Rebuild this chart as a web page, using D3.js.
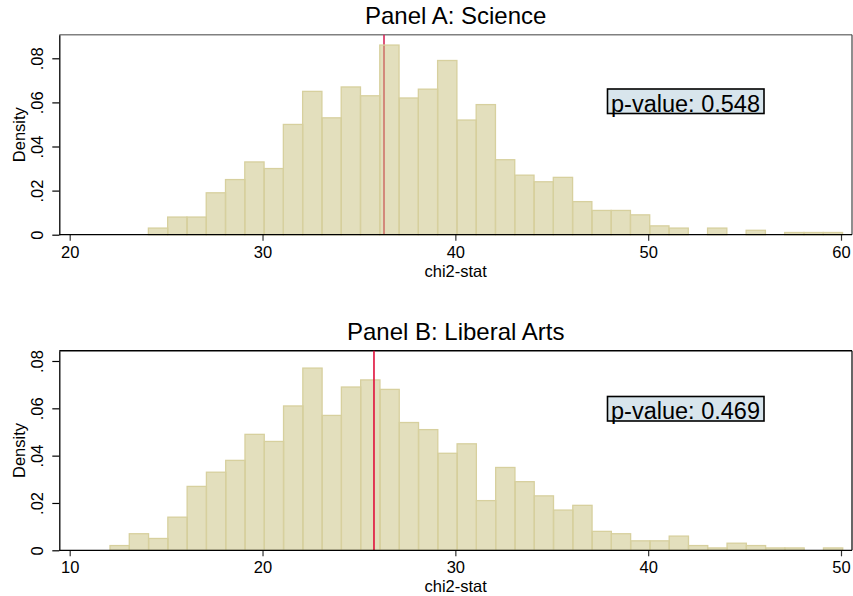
<!DOCTYPE html>
<html>
<head>
<meta charset="utf-8">
<script src="https://cdn.jsdelivr.net/npm/d3@7"></script>
<style>
  body { margin: 0; background: #fff; }
  svg { display: block; }
  text { font-family: "Liberation Sans", Arial, sans-serif; fill: #000; }
</style>
</head>
<body>
<div id="my_dataviz"></div>
<script>
// histogram values (density per bin, bins of width 1)
var scienceBinStart = 24.08, scienceBinWidth = 1.0;
var scienceDensity = [0.003, 0.008, 0.008, 0.019, 0.025, 0.033, 0.030, 0.050, 0.065, 0.053,
                      0.067, 0.063, 0.086, 0.062, 0.066, 0.079, 0.052, 0.059, 0.034, 0.027,
                      0.024, 0.026, 0.015, 0.011, 0.011, 0.009, 0.004, 0.003, 0.000, 0.003,
                      0.000, 0.002, 0.000, 0.001, 0.001, 0.001];
var scienceObserved = 36.3;
var sciencePValue = "p-value: 0.548";

var artsBinStart = 12.09, artsBinWidth = 1.0;
var artsDensity = [0.002, 0.007, 0.005, 0.014, 0.027, 0.033, 0.038, 0.049, 0.046, 0.061,
                   0.077, 0.057, 0.069, 0.072, 0.068, 0.054, 0.051, 0.041, 0.045, 0.021,
                   0.035, 0.029, 0.023, 0.017, 0.019, 0.008, 0.007, 0.004, 0.004, 0.006,
                   0.002, 0.001, 0.003, 0.002, 0.001, 0.001, 0.000, 0.001];
var artsObserved = 25.78;
var artsPValue = "p-value: 0.469";

var yTicks = [0, 0.02, 0.04, 0.06, 0.08];
var scienceXTicks = [20, 30, 40, 50, 60];
var artsXTicks = [10, 20, 30, 40, 50];

var svg = d3.select("#my_dataviz")
    .append("svg")
    .attr("width", 853)
    .attr("height", 596);

function drawPanel(p) {
    var g = svg.append("g");
    var left = 59.3, right = 852;

    var x = d3.scaleLinear().domain([p.xTicks[0], p.xTicks[4]]).range([69.7, 841]);
    var y = d3.scaleLinear().domain([0, p.yTop]).range([p.bottom, p.top]);

    var bins = p.density.map(function(d, i) {
        return { x0: p.binStart + i * p.binWidth, x1: p.binStart + (i + 1) * p.binWidth, d: d };
    });

    // box
    g.append("line").attr("x1", left).attr("x2", right).attr("y1", p.top).attr("y2", p.top)
        .attr("stroke", p.topColor).attr("stroke-width", 1.6);
    g.append("line").attr("x1", right).attr("x2", right).attr("y1", p.top).attr("y2", p.bottom)
        .attr("stroke", p.sideColor).attr("stroke-width", 1.2);

    function refLine() {
        g.append("line")
            .attr("x1", x(p.observed)).attr("x2", x(p.observed))
            .attr("y1", p.top).attr("y2", p.bottom)
            .attr("stroke", p.lineColor).attr("stroke-width", 1.6);
    }
    if (p.lineBehind) refLine();

    g.append("g")
        .selectAll("rect")
        .data(bins.filter(function(b) { return b.d > 0; }))
        .enter()
        .append("rect")
            .attr("x", function(b) { return x(b.x0); })
            .attr("width", function(b) { return x(b.x1) - x(b.x0); })
            .attr("y", function(b) { return y(b.d); })
            .attr("height", function(b) { return y(0) - y(b.d); })
            .attr("fill", "rgba(199,191,123,0.5)")
            .attr("stroke", "#d7d09e")
            .attr("stroke-width", 1.3);

    if (!p.lineBehind) refLine();

    // y axis
    var ya = g.append("g")
        .attr("transform", "translate(" + left + ",0)")
        .call(d3.axisLeft(y).tickValues(yTicks).tickSize(7).tickSizeOuter(0)
            .tickFormat(function(d) { return d === 0 ? "0" : d3.format(".2f")(d).replace(/^0/, ""); }));
    ya.select(".domain").attr("stroke", "#000").attr("stroke-width", 1.3);
    ya.selectAll(".tick line").attr("stroke", "#000").attr("stroke-width", 1.2);
    ya.selectAll(".tick text")
        .attr("transform", "rotate(-90)")
        .attr("x", 0).attr("y", -16).attr("dy", null)
        .attr("text-anchor", "middle")
        .style("font-size", "16.5px");

    // x axis
    var xa = g.append("g")
        .attr("transform", "translate(0," + p.bottom + ")")
        .call(d3.axisBottom(x).tickValues(p.xTicks).tickSize(6).tickSizeOuter(0));
    xa.select(".domain").remove();
    xa.append("line").attr("x1", left).attr("x2", right)
        .attr("stroke", "#000").attr("stroke-width", 1.3);
    xa.selectAll(".tick line").attr("stroke", "#333").attr("stroke-width", 1.2);
    xa.selectAll(".tick text")
        .attr("y", p.tickBase).attr("dy", null)
        .style("font-size", "16.5px");

    g.append("text")
        .attr("x", (left + right) / 2).attr("y", p.bottom + p.tickBase + 19)
        .attr("text-anchor", "middle").style("font-size", "16.5px")
        .text("chi2-stat");

    g.append("text")
        .attr("transform", "translate(25," + ((p.top + p.bottom) / 2) + ") rotate(-90)")
        .attr("text-anchor", "middle").style("font-size", "16.5px")
        .text("Density");

    g.append("text")
        .attr("x", (left + right) / 2).attr("y", p.titleY)
        .attr("text-anchor", "middle").style("font-size", "24px")
        .text(p.title);

    // p-value box
    g.append("rect")
        .attr("x", 607.5).attr("y", p.boxY)
        .attr("width", 156.5).attr("height", 24.5)
        .attr("fill", "#d8e5ec").attr("stroke", "#000").attr("stroke-width", 1.6);
    g.append("text")
        .attr("x", 685.5).attr("y", p.boxY + 22.5)
        .attr("text-anchor", "middle").style("font-size", "23.5px")
        .text(p.pvalue);
}

drawPanel({
    title: "Panel A: Science", titleY: 24,
    density: scienceDensity, binStart: scienceBinStart, binWidth: scienceBinWidth,
    observed: scienceObserved, pvalue: sciencePValue, xTicks: scienceXTicks,
    top: 34.7, bottom: 234.7, yTop: 0.0907, tickBase: 23.6, boxY: 89,
    topColor: "#808080", sideColor: "#444", lineColor: "#d6285a", lineBehind: true
});

drawPanel({
    title: "Panel B: Liberal Arts", titleY: 340,
    density: artsDensity, binStart: artsBinStart, binWidth: artsBinWidth,
    observed: artsObserved, pvalue: artsPValue, xTicks: artsXTicks,
    top: 350.7, bottom: 550.3, yTop: 0.08435, tickBase: 22.4, boxY: 396.5,
    topColor: "#000", sideColor: "#000", lineColor: "#e0103c", lineBehind: false
});
</script>
</body>
</html>
